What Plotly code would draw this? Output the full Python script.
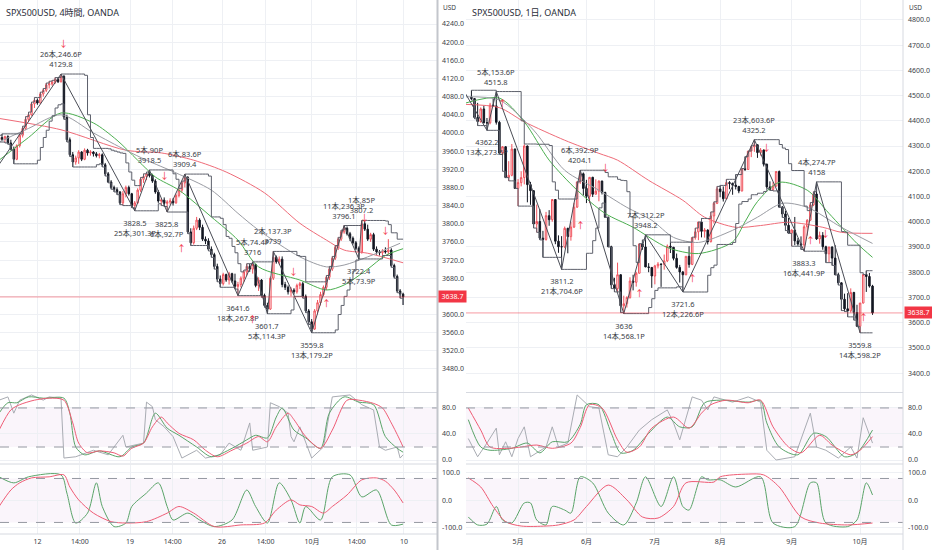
import pandas as pd
import plotly.graph_objects as go

W, H = 932, 550

# ---------------- left chart : SPX500USD 4h ----------------
L_OPEN = [3985, 3990, 3986, 3992, 3978, 3964, 3942, 3972, 3995, 4010, 4030, 4040, 4064, 4072, 4066, 4086, 4094, 4106, 4108, 4112,
          4118, 4113, 4125, 4035, 3985, 3952, 3936, 3945, 3958, 3942, 3962, 3956, 3958, 3954, 3950, 3952, 3930, 3910, 3892, 3880,
          3875, 3870, 3846, 3866, 3880, 3866, 3840, 3846, 3874, 3898, 3904, 3910, 3906, 3894, 3870, 3850, 3852, 3845, 3848, 3850,
          3846, 3862, 3874, 3890, 3902, 3782, 3758, 3790, 3808, 3792, 3766, 3762, 3744, 3732, 3706, 3678, 3668, 3688, 3676, 3690,
          3674, 3662, 3666, 3680, 3694, 3706, 3700, 3710, 3664, 3676, 3642, 3620, 3612, 3680, 3726, 3716, 3722, 3666, 3660, 3650,
          3654, 3650, 3664, 3668, 3640, 3608, 3584, 3568, 3608, 3626, 3644, 3660, 3682, 3700, 3724, 3748, 3766, 3782, 3790, 3778,
          3768, 3758, 3746, 3738, 3800, 3788, 3766, 3776, 3744, 3738, 3736, 3740, 3738, 3742, 3708, 3684, 3652, 3645]
L_HIGH = [3995, 3998, 3994, 3995, 3985, 3970, 3975, 3998, 4015, 4036, 4046, 4068, 4078, 4076, 4090, 4098, 4110, 4114, 4116, 4122,
          4121, 4129.8, 4127, 4040, 3990, 3958, 3950, 3962, 3960, 3966, 3965, 3962, 3960, 3958, 3956, 3955, 3934, 3914, 3896, 3884,
          3880, 3872, 3872, 3884, 3884, 3868, 3850, 3878, 3902, 3910, 3914, 3918.5, 3910, 3898, 3874, 3856, 3858, 3852, 3856, 3856,
          3866, 3878, 3894, 3909.4, 3905, 3790, 3796, 3815, 3812, 3798, 3772, 3768, 3750, 3736, 3712, 3686, 3692, 3690, 3694, 3692,
          3690, 3672, 3684, 3698, 3712, 3712, 3716, 3712, 3682, 3678, 3646, 3626, 3684, 3739, 3730, 3728, 3728, 3672, 3664, 3660,
          3658, 3668, 3672, 3672, 3644, 3612, 3590, 3612, 3632, 3650, 3664, 3686, 3706, 3728, 3752, 3770, 3786, 3796.1, 3794, 3782,
          3772, 3762, 3750, 3807.2, 3806, 3798, 3780, 3780, 3750, 3742, 3744, 3748, 3766, 3746, 3712, 3688, 3656, 3648]
L_LOW = [3980, 3982, 3978, 3975, 3962, 3932, 3940, 3968, 3990, 4006, 4026, 4038, 4055, 4062, 4064, 4080, 4090, 4098, 4104, 4108,
         4110, 4111, 4030, 3980, 3948, 3925, 3930, 3932, 3938, 3940, 3950, 3950, 3948, 3946, 3944, 3925, 3905, 3890, 3876, 3870,
         3864, 3842, 3840, 3858, 3862, 3835, 3828.5, 3844, 3870, 3890, 3896, 3902, 3890, 3866, 3846, 3840, 3838, 3825.8, 3842, 3840,
         3844, 3858, 3868, 3880, 3778, 3752, 3754, 3786, 3786, 3762, 3755, 3740, 3726, 3700, 3672, 3660, 3664, 3672, 3666, 3670,
         3656, 3641.6, 3660, 3672, 3686, 3694, 3690, 3660, 3652, 3638, 3616, 3601.7, 3610, 3676, 3712, 3710, 3660, 3654, 3644, 3640,
         3644, 3646, 3656, 3636, 3604, 3578, 3559.8, 3566, 3600, 3620, 3640, 3654, 3676, 3696, 3720, 3742, 3762, 3778, 3774, 3762,
         3754, 3742, 3722.4, 3734, 3784, 3762, 3760, 3740, 3732, 3730, 3730, 3734, 3732, 3704, 3680, 3648, 3636, 3621]
L_CLOSE = [3990, 3986, 3992, 3978, 3964, 3942, 3972, 3995, 4010, 4030, 4040, 4064, 4072, 4066, 4086, 4094, 4106, 4108, 4112, 4118,
           4113, 4125, 4035, 3985, 3952, 3936, 3945, 3958, 3942, 3962, 3956, 3958, 3954, 3950, 3952, 3930, 3910, 3892, 3880, 3875,
           3870, 3846, 3866, 3880, 3866, 3840, 3846, 3874, 3898, 3904, 3910, 3906, 3894, 3870, 3850, 3852, 3845, 3848, 3850, 3846,
           3862, 3874, 3890, 3902, 3782, 3758, 3790, 3808, 3792, 3766, 3762, 3744, 3732, 3706, 3678, 3668, 3688, 3676, 3690, 3674,
           3662, 3666, 3680, 3694, 3706, 3700, 3710, 3664, 3676, 3642, 3620, 3612, 3680, 3726, 3716, 3722, 3666, 3660, 3650, 3654,
           3650, 3664, 3668, 3640, 3608, 3584, 3568, 3608, 3626, 3644, 3660, 3682, 3700, 3724, 3748, 3766, 3782, 3790, 3778, 3768,
           3758, 3746, 3738, 3800, 3788, 3766, 3776, 3744, 3738, 3736, 3740, 3738, 3742, 3708, 3684, 3652, 3645, 3638.7]

L_XTICK_IDX = [13, 27.4, 44.4, 58.9, 75.6, 90.4, 106.1, 121.3, 137.3]
L_XTICK_TXT = ["12", "14:00", "19", "14:00", "26", "14:00", "10月", "14:00", "10"]
L_PRICE_TICKS = list(range(3480, 4241, 40))

# moving averages (bar index, price)
L_MA_RED_IDX = [0, 21, 43, 55, 66, 77, 90, 102, 111, 117, 125, 137]
L_MA_RED = [4032, 4007, 3962, 3956, 3940, 3914, 3868, 3801, 3764, 3742, 3735, 3714]
L_MA_GREEN_IDX = [0, 4, 10, 21, 32, 40, 47, 53, 61, 72, 81, 88, 102, 111, 117, 125, 131, 137]
L_MA_GREEN = [3940, 3960, 3990, 4044, 4022, 3984, 3940, 3903, 3874, 3815, 3764, 3705, 3676, 3654, 3665, 3700, 3730, 3745]
L_MA_GRAY_IDX = [0, 10, 21, 32, 43, 50, 60, 72, 81, 88, 102, 111, 117, 125, 136]
L_MA_GRAY = [3980, 4010, 4040, 4000, 3962, 3940, 3912, 3874, 3823, 3786, 3727, 3705, 3709, 3727, 3757]

# zigzag pivots
L_ZZ_START = (-5, 3883.2)
L_PIV_IDX = [21, 46, 51, 57, 63, 81, 86, 91, 93, 106, 117, 122, 123]
L_PIV_PRICE = [4129.8, 3828.5, 3918.5, 3825.8, 3909.4, 3641.6, 3716, 3601.7, 3739, 3559.8, 3796.1, 3722.4, 3807.2]
L_PIV_KIND = ["H", "L", "H", "L", "H", "L", "H", "L", "H", "L", "H", "L", "H"]
L_PIV_BARS = [26, 25, 5, 6, 6, 18, 5, 5, 2, 13, 11, 5, 1]
L_PIV_PTS = ["246.6", "301.3", "90", "92.7", "83.6", "267.8", "74.4", "114.3", "137.3", "179.2", "236.3", "73.9", "85"]
L_DN_IDX = [22, 56, 100, 124, 131]
L_DN_PRICE = [4198, 3907, 3694, 3813, 3786]
L_UP_IDX = [62, 86, 111]
L_UP_PRICE = [3746, 3588, 3625]

# stochastic
L_ST_GRAY_IDX = [0, 3, 5, 7, 11, 15, 17, 21, 22, 26, 32, 37, 42, 43, 49, 50, 52, 53, 56, 59, 62, 67, 70, 75, 78, 82, 85, 86,
                 91, 92, 95, 98, 99, 100, 102, 104, 106, 110, 113, 119, 123, 127, 129, 131, 135, 136, 137]
L_ST_GRAY = [92, 97, 72, 92, 100, 92, 97, 95, 3, 5, 15, 8, 38, 20, 26, 89, 82, 62, 51, 36, 3, 15, 3, 8, 26, 15, 57, 15,
             20, 88, 82, 72, 36, 28, 51, 28, 3, 20, 97, 100, 85, 77, 20, 15, 20, 3, 8]
L_ST_GREEN_IDX = [0, 3, 6, 10, 15, 22, 24, 26, 29, 34, 41, 45, 49, 53, 57, 61, 67, 72, 79, 84, 87, 91, 94, 96, 100, 104, 109,
                  112, 117, 122, 127, 131, 135, 137]
L_ST_GREEN = [72, 88, 88, 97, 95, 95, 72, 20, 8, 14, 5, 20, 26, 72, 49, 38, 20, 5, 18, 31, 38, 34, 66, 80, 46, 34, 18,
              72, 97, 89, 85, 36, 18, 12]
L_ST_RED_IDX = [0, 4, 7, 12, 17, 22, 25, 27, 30, 34, 39, 42, 45, 49, 52, 55, 57, 61, 66, 70, 74, 79, 84, 88, 91, 94, 98, 100,
                104, 109, 113, 118, 122, 127, 130, 133, 136, 137]
L_ST_RED = [46, 77, 85, 92, 95, 92, 57, 26, 11, 14, 11, 6, 18, 26, 51, 66, 57, 41, 31, 15, 5, 15, 26, 36, 28, 51, 72, 62,
            36, 18, 46, 92, 92, 87, 80, 57, 30, 20]
# RCI
L_RCI_GREEN_IDX = [0, 5, 10, 21, 23, 26, 30, 33, 35, 39, 43, 45, 50, 54, 57, 59, 64, 68, 73, 79, 84, 87, 91, 95, 99, 102,
                   104, 109, 113, 119, 123, 128, 133, 137]
L_RCI_GREEN = [86, 64, 86, 93, 27, -82, -46, 64, -22, -95, -82, -22, 27, 64, -22, -71, -46, -71, -95, -71, 38, -22, -82, 64,
               2, -82, -22, -71, 86, 93, 13, 38, -89, -86]
L_RCI_RED_IDX = [0, 4, 7, 11, 17, 22, 24, 27, 32, 38, 43, 50, 57, 61, 66, 73, 82, 90, 94, 99, 102, 106, 110, 113, 118, 123,
                 128, 131, 134, 137]
L_RCI_RED = [-22, 38, 64, 82, 86, 93, 49, 2, -46, -77, -82, -77, -46, -22, -46, -95, -89, -82, -35, 2, -16, -22, -46, -22,
             20, 75, 82, 70, 38, -9]

# ---------------- right chart : SPX500USD 1D ----------------
R_OPEN = [4494, 4488, 4413, 4397, 4447, 4392, 4392, 4462, 4459, 4394, 4272, 4297, 4175, 4184, 4288, 4132, 4155, 4175, 4300, 4147,
          4123, 3991, 4001, 3935, 3930, 4024, 4008, 4088, 3923, 3901, 3901, 3974, 3941, 3979, 4058, 4158, 4190, 4132, 4101, 4176,
          4109, 4121, 4161, 4116, 4018, 3901, 3750, 3735, 3790, 3667, 3675, 3700, 3765, 3760, 3796, 3912, 3900, 3821, 3819, 3785,
          3825, 3832, 3831, 3845, 3903, 3899, 3855, 3819, 3801, 3790, 3863, 3831, 3937, 3960, 3999, 3962, 3967, 3921, 4023, 4073,
          4130, 4119, 4091, 4155, 4152, 4145, 4140, 4122, 4210, 4207, 4280, 4297, 4305, 4274, 4284, 4228, 4138, 4128, 4141, 4199,
          4058, 4031, 3986, 3955, 3967, 3924, 3912, 3908, 3980, 4006, 4067, 4110, 3932, 3946, 3901, 3873, 3900, 3856, 3790, 3758,
          3693, 3655, 3647, 3720, 3640, 3586, 3678, 3791, 3783, 3745]
R_HIGH = [4521, 4490, 4471, 4453, 4460, 4411, 4471, 4489, 4515.8, 4400, 4300, 4300, 4240, 4308, 4290, 4169, 4200, 4307, 4302, 4158,
          4125, 4068, 4050, 3964, 4039, 4046, 4090, 4090, 3946, 3943, 3981, 3976, 3999, 4075, 4158, 4204.1, 4195, 4166, 4177, 4178,
          4168, 4164, 4163, 4119, 4020, 3905, 3778, 3838, 3792, 3707, 3705, 3780, 3790, 3802, 3913, 3928, 3948.2, 3836, 3820, 3829,
          3840, 3835, 3870, 3910, 3919, 3900, 3874, 3829, 3805, 3863, 3903, 3939, 3975, 3999, 4013, 3975, 3970, 4039, 4079, 4140,
          4144, 4140, 4168, 4161, 4155, 4187, 4142, 4211, 4258, 4280, 4301, 4325.2, 4306, 4292, 4286, 4230, 4160, 4157, 4200, 4203,
          4062, 4044, 4015, 3970, 4019, 3935, 3942, 3987, 4010, 4076, 4119, 4158, 3961, 3959, 3905, 3900, 3902, 3907, 3798, 3760,
          3715, 3717, 3736, 3722, 3671, 3678, 3791, 3806, 3797, 3750]
R_LOW = [4482, 4408, 4381, 4392, 4390, 4362.2, 4386, 4455, 4385, 4267, 4200, 4175, 4162, 4180, 4132, 4062, 4140, 4148, 4077, 4067,
         3975, 3958, 3928, 3859, 3925, 3984, 4000, 3911, 3877, 3811.2, 3895, 3875, 3925, 3975, 4055, 4150, 4104, 4074, 4074, 4098,
         4109, 4081, 4108, 4017, 3900, 3735, 3722, 3723, 3640, 3636, 3660, 3695, 3728, 3743, 3795, 3889, 3820, 3800, 3738, 3752,
         3815, 3742, 3810, 3840, 3876, 3847, 3814, 3759, 3721.6, 3788, 3818, 3828, 3929, 3927, 3938, 3937, 3910, 3918, 3993, 4070,
         4097, 4080, 4090, 4129, 4107, 4128, 4113, 4120, 4201, 4205, 4256, 4277, 4253, 4262, 4219, 4131, 4124, 4122, 4140, 4057,
         4017, 3965, 3954, 3903, 3907, 3905, 3890, 3883.3, 3945, 4004, 4062, 3928, 3913, 3889, 3838, 3839, 3827, 3789, 3749, 3648,
         3644, 3623, 3640, 3610, 3584, 3559.8, 3676, 3722, 3739, 3631]
R_CLOSE = [4488, 4413, 4397, 4447, 4392, 4392, 4462, 4459, 4394, 4272, 4297, 4175, 4184, 4288, 4132, 4155, 4175, 4300, 4147, 4123,
           3991, 4001, 3935, 3930, 4024, 4008, 4088, 3923, 3901, 3901, 3974, 3941, 3979, 4058, 4158, 4190, 4132, 4101, 4176, 4109,
           4121, 4161, 4116, 4018, 3901, 3750, 3735, 3790, 3667, 3675, 3700, 3765, 3760, 3796, 3912, 3900, 3821, 3819, 3785, 3825,
           3832, 3831, 3845, 3903, 3899, 3855, 3819, 3801, 3790, 3863, 3831, 3937, 3960, 3999, 3962, 3967, 3921, 4023, 4073, 4130,
           4119, 4091, 4155, 4152, 4145, 4140, 4122, 4210, 4207, 4280, 4297, 4305, 4274, 4284, 4228, 4138, 4128, 4141, 4199, 4058,
           4031, 3986, 3955, 3967, 3924, 3912, 3908, 3980, 4006, 4067, 4110, 3932, 3946, 3901, 3873, 3900, 3856, 3790, 3758, 3693,
           3655, 3647, 3720, 3640, 3586, 3678, 3791, 3783, 3745, 3638.7]

R_XTICK_IDX = [15, 37, 59, 80, 103, 125]
R_XTICK_TXT = ["5月", "6月", "7月", "8月", "9月", "10月"]
R_PRICE_TICKS = list(range(3400, 4801, 100))

R_MA_RED_IDX = [-2, 9, 17, 30, 41, 47, 57, 68, 75, 85, 93, 102, 113, 119, 129]
R_MA_RED = [4465, 4452, 4396, 4323, 4271, 4244, 4164, 4085, 4018, 3978, 3985, 3998, 3978, 3958, 3954]
R_MA_GREEN_IDX = [-2, 9, 17, 25, 34, 43, 52, 63, 73, 84, 88, 92, 99, 108, 115, 124, 129]
R_MA_GREEN = [4470, 4490, 4396, 4244, 4125, 4033, 3978, 3898, 3874, 3920, 4000, 4080, 4156, 4125, 4033, 3914, 3859]
R_MA_GRAY_IDX = [-2, 9, 20, 30, 41, 50, 58, 65, 73, 84, 92, 100, 108, 119, 129]
R_MA_GRAY = [4495, 4482, 4363, 4204, 4125, 4057, 4006, 3938, 3918, 3966, 4018, 4073, 4057, 3978, 3914]

R_ZZ_START = (-8, 4635.8)
R_PIV_IDX = [5, 8, 29, 35, 49, 56, 68, 91, 107, 111, 125]
R_PIV_PRICE = [4362.2, 4515.8, 3811.2, 4204.1, 3636, 3948.2, 3721.6, 4325.2, 3883.3, 4158, 3559.8]
R_PIV_KIND = ["L", "H", "L", "H", "L", "H", "L", "H", "L", "H", "L"]
R_PIV_BARS = [13, 5, 21, 6, 14, 7, 12, 23, 16, 4, 14]
R_PIV_PTS = ["273.6", "153.6", "704.6", "392.9", "568.1", "312.2", "226.6", "603.6", "441.9", "274.7", "598.2"]
R_DN_IDX = [43, 95, 114]
R_DN_PRICE = [4216, 4295, 3954]
R_UP_IDX = [10, 35, 54, 71, 109, 126]
R_UP_PRICE = [4470, 3986, 3716, 3775, 3926, 3621]

R_ST_GRAY_IDX = [-1, 2, 5, 8, 9, 11, 13, 15, 17, 19, 24, 26, 28, 31, 34, 38, 41, 44, 47, 50, 54, 58, 63, 65, 67, 71, 74,
                 76, 78, 84, 89, 93, 95, 98, 104, 109, 111, 114, 118, 122, 124, 126, 129]
R_ST_GRAY = [33, 5, 26, 49, 8, 28, 5, 33, 51, 5, 20, 51, 20, 26, 100, 82, 80, 8, 5, 20, 46, 62, 77, 57, 31, 97, 92,
             77, 97, 89, 97, 89, 15, 0, 5, 72, 20, 15, 3, 20, 3, 65, 26]
R_ST_GREEN_IDX = [-1, 3, 6, 13, 18, 22, 26, 31, 35, 37, 41, 45, 48, 52, 57, 63, 67, 71, 75, 80, 89, 93, 95, 99, 105, 110,
                  114, 120, 124, 129]
R_ST_GREEN = [62, 20, 15, 18, 26, 11, 28, 28, 55, 85, 85, 41, 11, 15, 41, 66, 51, 51, 88, 92, 89, 91, 57, 20, 8, 41,
              36, 5, 11, 46]
R_ST_RED_IDX = [-1, 3, 6, 12, 16, 21, 26, 32, 35, 38, 42, 47, 50, 54, 58, 65, 70, 74, 77, 82, 89, 93, 97, 102, 106, 112,
                116, 122, 125, 129]
R_ST_RED = [80, 46, 20, 18, 20, 23, 18, 26, 50, 85, 80, 31, 12, 20, 49, 66, 49, 72, 85, 92, 88, 92, 51, 20, 11, 38,
            23, 8, 15, 36]
R_RCI_GREEN_IDX = [-1, 2, 5, 8, 10, 13, 17, 19, 21, 24, 26, 30, 32, 35, 39, 44, 49, 53, 56, 61, 65, 68, 70, 74, 76, 80,
                   85, 93, 97, 104, 109, 111, 114, 121, 124, 127, 129]
R_RCI_GREEN = [-60, -89, -86, -22, -71, -82, -9, -9, -71, -89, -22, -35, -46, 86, 64, -46, -89, -9, 86, -22, 86, -22, -35,
               86, 75, 75, 49, 86, -82, -95, 64, 64, -82, -95, -71, 64, 20]
R_RCI_RED_IDX = [-1, 3, 7, 11, 16, 24, 28, 33, 37, 44, 50, 55, 60, 65, 69, 78, 80, 89, 94, 99, 106, 112, 121, 129]
R_RCI_RED = [82, 49, -22, -77, -93, -93, -89, -71, -22, 56, 2, -60, -64, -22, 64, 67, 86, 96, 93, 49, -60, -82, -89, -82]

LAST_PRICE = 3638.7

# ---------------- styling ----------------
FONT = "Noto Sans, Noto Sans CJK JP, sans-serif"
TXT = "#3b3e47"
GRID = "#eef0f4"
UP = "#f0525c"
DOWN = "#131722"
STEP = "#5d606b"
ZZ = "#4a4d56"
MA_RED, MA_GREEN, MA_GRAY = "#ef6b78", "#4caf50", "#9a9ca3"
OSC_RED, OSC_GREEN, OSC_GRAY = "#ef5c75", "#5aa469", "#a9acb3"

PRICE_PX = (0, 392)
STOCH_PX = (393, 463)
RCI_PX = (465, 534)


def ydom(px):
    return [1 - px[1] / H, 1 - px[0] / H]


def line(fig, xa, ya, x, y, color, width=1, shape="linear"):
    fig.add_trace(go.Scatter(x=x, y=y, mode="lines", line=dict(color=color, width=width, shape=shape, smoothing=0.8),
                             hoverinfo="skip", showlegend=False, xaxis=xa, yaxis=ya))


def build_chart(fig, axes, o, h, l, c, ma, zz, piv, arrows, stoch, rci, step_win=8):
    (xp, yp), (xs, ys), (xr, yr) = axes
    idx = list(range(len(c)))
    upper = pd.Series(h).rolling(step_win, min_periods=1).max()
    lower = pd.Series(l).rolling(step_win, min_periods=1).min()

    for (mx, my, col) in ma:
        line(fig, xp, yp, mx, my, col, 1, "spline")
    line(fig, xp, yp, idx, upper, STEP, 1, "hv")
    line(fig, xp, yp, idx, lower, STEP, 1, "hv")

    p_idx, p_price, p_kind, p_bars, p_pts = piv
    line(fig, xp, yp, [zz[0]] + p_idx, [zz[1]] + p_price, ZZ, 1)

    fig.add_trace(go.Candlestick(
        x=idx, open=o, high=h, low=l, close=c, whiskerwidth=0, hoverinfo="skip", showlegend=False,
        increasing=dict(line=dict(color=UP, width=1), fillcolor="white"),
        decreasing=dict(line=dict(color=DOWN, width=1), fillcolor=DOWN),
        xaxis=xp, yaxis=yp))

    for i, p, k, b, pts in zip(p_idx, p_price, p_kind, p_bars, p_pts):
        if k == "H":
            txt, ya_, sh = f"{b}本,{pts}P<br>{p:g}", "bottom", 4
        else:
            txt, ya_, sh = f"{p:g}<br>{b}本,{pts}P", "top", -6
        fig.add_annotation(x=i, y=p, xref=xp, yref=yp, text=txt, showarrow=False, yanchor=ya_, yshift=sh,
                           font=dict(size=7.5, color=TXT, family=FONT), align="center", borderpad=0)

    (dn_i, dn_p), (up_i, up_p) = arrows
    for i, p in zip(dn_i, dn_p):
        fig.add_annotation(x=i, y=p, xref=xp, yref=yp, text="↓", showarrow=False,
                           font=dict(size=9, color="#f23645", family=FONT))
    for i, p in zip(up_i, up_p):
        fig.add_annotation(x=i, y=p, xref=xp, yref=yp, text="↑", showarrow=False,
                           font=dict(size=9, color="#f23645", family=FONT))

    # stochastic pane
    fig.add_shape(type="rect", xref=f"{xs} domain", yref=ys, x0=0, x1=1, y0=20, y1=80,
                  fillcolor="rgba(190,110,200,0.07)", line_width=0, layer="below")
    for lv in (20, 80):
        fig.add_shape(type="line", xref=f"{xs} domain", yref=ys, x0=0, x1=1, y0=lv, y1=lv,
                      line=dict(color="#9598a1", width=1, dash="dash"))
    (gx, gy), (grx, gry), (rx, ry) = stoch
    line(fig, xs, ys, gx, gy, OSC_GRAY, 1)
    line(fig, xs, ys, grx, gry, OSC_GREEN, 1, "spline")
    line(fig, xs, ys, rx, ry, OSC_RED, 1, "spline")

    # RCI pane
    fig.add_shape(type="rect", xref=f"{xr} domain", yref=yr, x0=0, x1=1, y0=-80, y1=80,
                  fillcolor="rgba(190,110,200,0.07)", line_width=0, layer="below")
    for lv in (-80, 80):
        fig.add_shape(type="line", xref=f"{xr} domain", yref=yr, x0=0, x1=1, y0=lv, y1=lv,
                      line=dict(color="#9598a1", width=1, dash="dash"))
    (grx, gry), (rx, ry) = rci
    line(fig, xr, yr, grx, gry, OSC_GREEN, 1, "spline")
    line(fig, xr, yr, rx, ry, OSC_RED, 1, "spline")

    # last price line
    fig.add_shape(type="line", xref=f"{xp} domain", yref=yp, x0=0, x1=1, y0=LAST_PRICE, y1=LAST_PRICE,
                  line=dict(color="rgba(242,54,69,0.5)", width=1))


fig = go.Figure()

build_chart(
    fig, (("x", "y"), ("x2", "y2"), ("x3", "y3")), L_OPEN, L_HIGH, L_LOW, L_CLOSE,
    [(L_MA_RED_IDX, L_MA_RED, MA_RED), (L_MA_GREEN_IDX, L_MA_GREEN, MA_GREEN), (L_MA_GRAY_IDX, L_MA_GRAY, MA_GRAY)],
    L_ZZ_START, (L_PIV_IDX, L_PIV_PRICE, L_PIV_KIND, L_PIV_BARS, L_PIV_PTS),
    ((L_DN_IDX, L_DN_PRICE), (L_UP_IDX, L_UP_PRICE)),
    ((L_ST_GRAY_IDX, L_ST_GRAY), (L_ST_GREEN_IDX, L_ST_GREEN), (L_ST_RED_IDX, L_ST_RED)),
    ((L_RCI_GREEN_IDX, L_RCI_GREEN), (L_RCI_RED_IDX, L_RCI_RED)))

build_chart(
    fig, (("x4", "y4"), ("x5", "y5"), ("x6", "y6")), R_OPEN, R_HIGH, R_LOW, R_CLOSE,
    [(R_MA_RED_IDX, R_MA_RED, MA_RED), (R_MA_GREEN_IDX, R_MA_GREEN, MA_GREEN), (R_MA_GRAY_IDX, R_MA_GRAY, MA_GRAY)],
    R_ZZ_START, (R_PIV_IDX, R_PIV_PRICE, R_PIV_KIND, R_PIV_BARS, R_PIV_PTS),
    ((R_DN_IDX, R_DN_PRICE), (R_UP_IDX, R_UP_PRICE)),
    ((R_ST_GRAY_IDX, R_ST_GRAY), (R_ST_GREEN_IDX, R_ST_GREEN), (R_ST_RED_IDX, R_ST_RED)),
    ((R_RCI_GREEN_IDX, R_RCI_GREEN), (R_RCI_RED_IDX, R_RCI_RED)))

LX = [0, 437 / W]
RX = [466 / W, 903 / W]
L_RANGE = [0.32, 148.5]
R_RANGE = [-1.74, 138.8]


def xaxis(domain, rng, ticks, labels, anchor, show):
    return dict(domain=domain, range=rng, anchor=anchor, tickvals=ticks, ticktext=labels, showticklabels=show,
                showgrid=True, gridcolor=GRID, zeroline=False, showline=False, ticks="", ticklen=0,
                ticklabelstandoff=2, fixedrange=True,
                tickfont=dict(size=7, color=TXT, family=FONT), rangeslider=dict(visible=False))


def yaxis(domain, rng, ticks, anchor):
    return dict(domain=domain, range=rng, anchor=anchor, side="right", tickvals=ticks,
                ticktext=[f"{t:.1f}" for t in ticks], showgrid=True, gridcolor=GRID, zeroline=False,
                showline=False, ticks="", ticklen=0, ticklabelstandoff=4, fixedrange=True,
                tickfont=dict(size=7, color=TXT, family=FONT))


fig.update_layout(
    width=W, height=H, margin=dict(l=0, r=0, t=0, b=0),
    paper_bgcolor="white", plot_bgcolor="white", showlegend=False,
    font=dict(family=FONT, color=TXT),
    xaxis=xaxis(LX, L_RANGE, L_XTICK_IDX, L_XTICK_TXT, "y", False),
    xaxis2=xaxis(LX, L_RANGE, L_XTICK_IDX, L_XTICK_TXT, "y2", False),
    xaxis3=xaxis(LX, L_RANGE, L_XTICK_IDX, L_XTICK_TXT, "y3", True),
    xaxis4=xaxis(RX, R_RANGE, R_XTICK_IDX, R_XTICK_TXT, "y4", False),
    xaxis5=xaxis(RX, R_RANGE, R_XTICK_IDX, R_XTICK_TXT, "y5", False),
    xaxis6=xaxis(RX, R_RANGE, R_XTICK_IDX, R_XTICK_TXT, "y6", True),
    yaxis=yaxis(ydom(PRICE_PX), [3429.3, 4292.9], L_PRICE_TICKS, "x"),
    yaxis2=yaxis(ydom(STOCH_PX), [-4.6, 103], [0, 40, 80], "x2"),
    yaxis3=yaxis(ydom(RCI_PX), [-122, 129], [-100, 0, 100], "x3"),
    yaxis4=yaxis(ydom(PRICE_PX), [3325.4, 4878.6], R_PRICE_TICKS, "x4"),
    yaxis5=yaxis(ydom(STOCH_PX), [-4.6, 103], [0, 40, 80], "x5"),
    yaxis6=yaxis(ydom(RCI_PX), [-122, 129], [-100, 0, 100], "x6"),
)

# pane separators and scale borders
for y_px in (392.5, 464, 534):
    for x0, x1 in ((0, 437), (466, 903)):
        fig.add_shape(type="line", xref="paper", yref="paper", x0=x0 / W, x1=x1 / W, y0=1 - y_px / H, y1=1 - y_px / H,
                      line=dict(color="#d6d9e0", width=1))
fig.add_shape(type="line", xref="paper", yref="paper", x0=437.5 / W, x1=437.5 / W, y0=0, y1=1,
              line=dict(color="#c3c6cc", width=2))
fig.add_shape(type="line", xref="paper", yref="paper", x0=903 / W, x1=903 / W, y0=0, y1=1,
              line=dict(color="#d6d9e0", width=1))

# titles, currency labels, last price tags
for x_px, title in ((5, "SPX500USD, 4時間, OANDA"), (471, "SPX500USD, 1日, OANDA")):
    fig.add_annotation(x=x_px / W, y=1 - 12 / H, xref="paper", yref="paper", text=title, showarrow=False,
                       xanchor="left", yanchor="middle", borderpad=0,
                       font=dict(size=9, color="#2a2e39", family=FONT))
for x_px in (442, 908):
    fig.add_annotation(x=x_px / W, y=1 - 8 / H, xref="paper", yref="paper", text="USD", showarrow=False,
                       xanchor="left", yanchor="middle", borderpad=0, font=dict(size=6.5, color=TXT, family=FONT))
for x_px, ya in ((438, "y"), (904, "y4")):
    fig.add_annotation(x=x_px / W, y=LAST_PRICE, xref="paper", yref=ya, text=f"{LAST_PRICE:.1f}", showarrow=False,
                       xanchor="left", yanchor="middle", bgcolor="#f23645", width=25, borderpad=1,
                       font=dict(size=7, color="white", family=FONT))

# the page's default body margin would push the fixed-size figure off by 8px
fig.write_html("out.html", config={"displayModeBar": False},
               post_script="document.body.style.margin='0';")
